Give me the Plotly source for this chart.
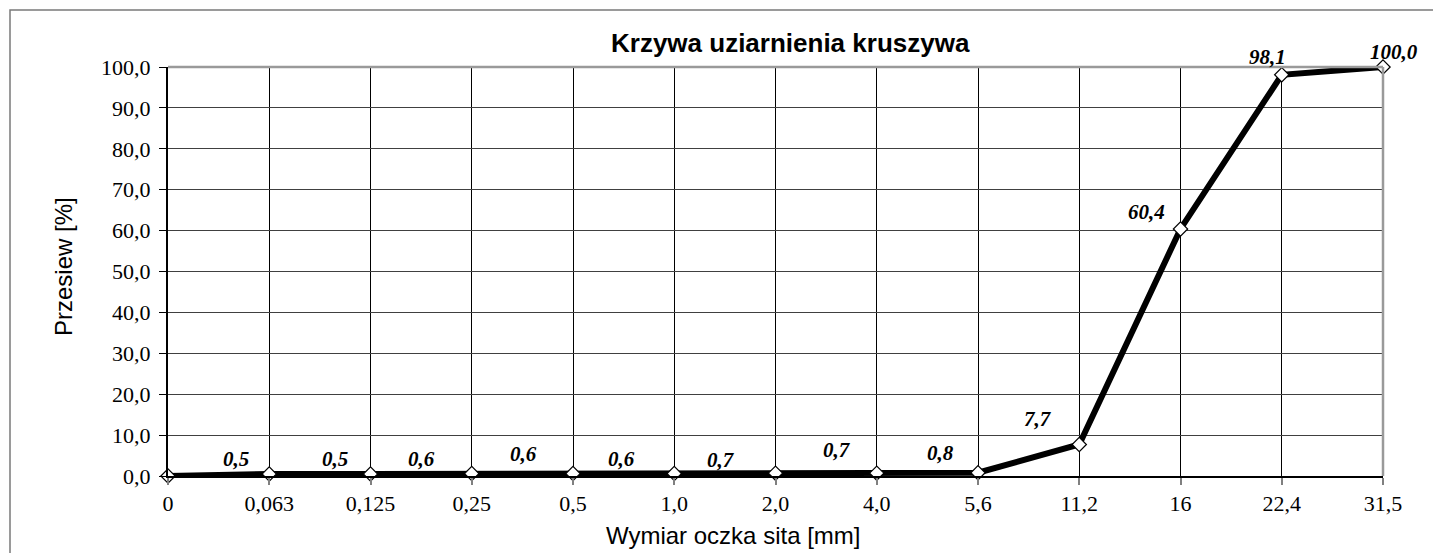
import plotly.graph_objects as go

# ---- data ----
sieve_labels = ["0", "0,063", "0,125", "0,25", "0,5", "1,0", "2,0", "4,0", "5,6",
                "11,2", "16", "22,4", "31,5"]
passing = [0.0, 0.5, 0.5, 0.6, 0.6, 0.6, 0.7, 0.7, 0.8, 7.7, 60.4, 98.1, 100.0]
y_ticks = [0, 10, 20, 30, 40, 50, 60, 70, 80, 90, 100]

# label pixel offsets (layout only)
label_offsets = [None, (-33, 15), (-36, 15), (-50, 15), (-50, 20), (-53, 15),
                 (-55, 13), (-40, 23), (-38, 20), (-41, 26), (-34, 17),
                 (-14, 18), (11, 15)]

def fmt(v):
    return f"{v:.1f}".replace(".", ",")

idx = list(range(len(sieve_labels)))

# screen geometry (page body has an 8px margin)
OFF = 8
SW, SH = 1441, 553
L, R, T, B = 168, 1383, 67, 476
W, H = SW - OFF, SH - OFF

def px(xs):
    return (xs - L) / (R - L)

def py(ys):
    return (B - ys) / (B - T)

fig = go.Figure()
fig.add_trace(go.Scatter(
    x=idx, y=passing, mode="lines+markers",
    line=dict(color="black", width=6),
    marker=dict(symbol="diamond", size=11, color="white",
                line=dict(color="black", width=1.2)),
    cliponaxis=False, showlegend=False, hoverinfo="skip"))

annotations = []
for i, v in enumerate(passing):
    off = label_offsets[i]
    if off is None:
        continue
    annotations.append(dict(
        x=i, y=v, xref="x", yref="y", text=fmt(v), showarrow=False,
        xshift=off[0], yshift=off[1],
        font=dict(family="Liberation Serif", size=21, color="black",
                  weight="bold", style="italic")))

# titles
annotations.append(dict(
    x=px(790), y=py(43), xref="paper", yref="paper", showarrow=False,
    xanchor="center", yanchor="middle", text="<b>Krzywa uziarnienia kruszywa</b>",
    font=dict(family="Liberation Sans", size=26, color="black")))
annotations.append(dict(
    x=px(733), y=py(535), xref="paper", yref="paper", showarrow=False,
    xanchor="center", yanchor="middle", text="Wymiar oczka sita [mm]",
    font=dict(family="Liberation Sans", size=24, color="black")))
annotations.append(dict(
    x=px(63), y=py(267), xref="paper", yref="paper", showarrow=False,
    xanchor="center", yanchor="middle", text="Przesiew [%]", textangle=-90,
    font=dict(family="Liberation Sans", size=24, color="black")))

shapes = [
    # outer chart border (only top/left visible)
    dict(type="rect", xref="paper", yref="paper", x0=px(10), x1=1.3,
         y0=-0.4, y1=py(10), line=dict(color="#7a7a7a", width=1.5), layer="below"),
    # plot area top and right borders
    dict(type="line", xref="paper", yref="paper", x0=0, x1=1, y0=1, y1=1,
         line=dict(color="#9a9a9a", width=2.5)),
    dict(type="line", xref="paper", yref="paper", x0=1, x1=1, y0=0, y1=1,
         line=dict(color="#9a9a9a", width=2.5)),
]

fig.update_layout(
    width=W, height=H,
    margin=dict(l=L - OFF, r=W - (R - OFF), t=T - OFF, b=H - (B - OFF),
                autoexpand=False),
    paper_bgcolor="white", plot_bgcolor="white",
    separators=",.",
    xaxis=dict(
        range=[0, len(sieve_labels) - 1], tickmode="array", tickvals=idx,
        ticktext=sieve_labels, showgrid=True, gridcolor="black", gridwidth=1,
        zeroline=False, showline=True, linecolor="black", linewidth=2,
        ticks="outside", ticklen=7, tickcolor="#808080", tickwidth=1.5,
        tickfont=dict(family="Liberation Serif", size=22, color="black"),
        fixedrange=True),
    yaxis=dict(
        range=[0, 100], tickmode="array", tickvals=y_ticks,
        ticktext=[fmt(v) for v in y_ticks], showgrid=True, gridcolor="#404040",
        gridwidth=1, zeroline=False, showline=True, linecolor="black", linewidth=2,
        ticks="outside", ticklen=7, tickcolor="black", tickwidth=1,
        ticklabelstandoff=4,
        tickfont=dict(family="Liberation Serif", size=22, color="black"),
        fixedrange=True),
    annotations=annotations, shapes=shapes,
)

fig.write_html("out.html")
